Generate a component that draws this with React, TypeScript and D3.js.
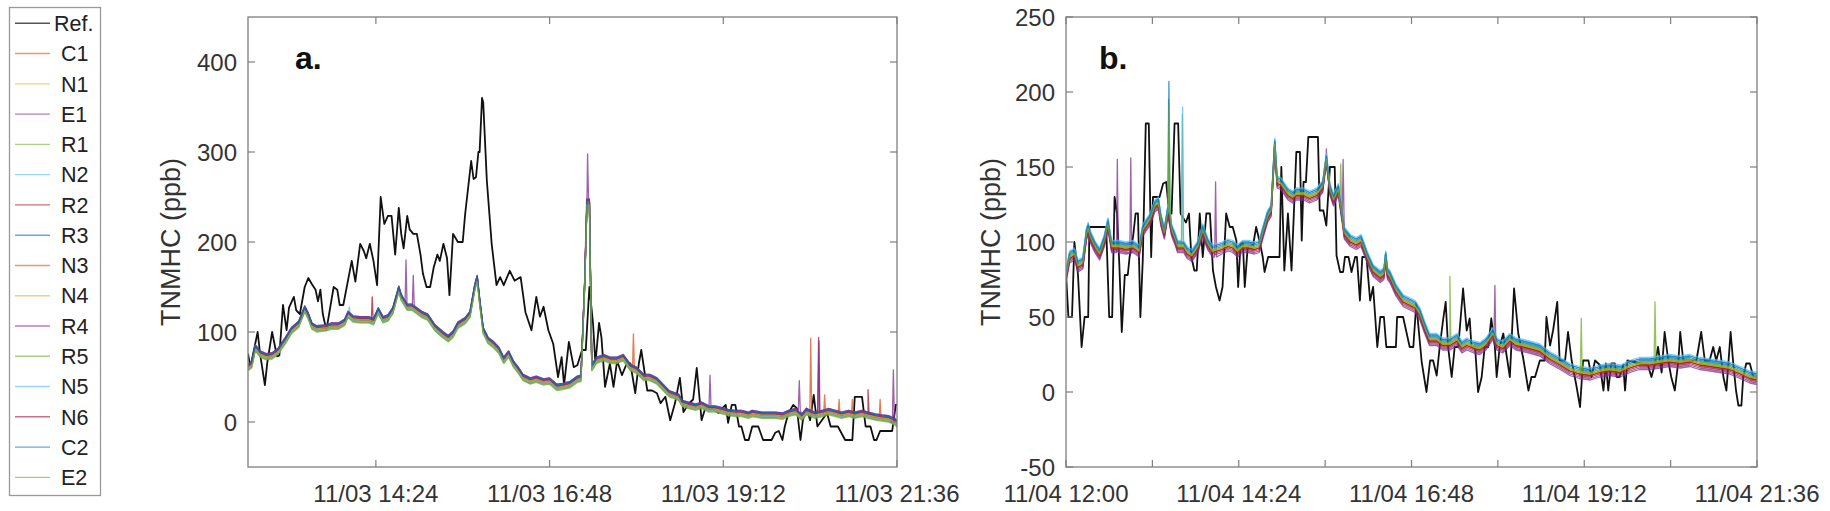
import * as d3 from "d3";

const W = 1830;
const H = 511;
const FONT = "'Liberation Sans', Arial, sans-serif";
const AXIS = "#7f7f7f";
const TEXT = "#333";

const sensorNames = ["C1", "N1", "E1", "R1", "N2", "R2", "R3", "N3", "N4", "R4", "R5", "N5", "N6", "C2", "E2"];
const sensorColors = [
  "#D95319", "#EDB120", "#7E2F8E", "#77AC30", "#4DBEEE", "#A2142F", "#0072BD",
  "#D95319", "#EDB120", "#7E2F8E", "#77AC30", "#4DBEEE", "#A2142F", "#0072BD", "#77AC30",
];

// times are minutes after 12:00 of the day, values in ppb
const refA: [number, number][] = [
  [38, 76], [40, 61], [46, 100], [48, 76], [52, 41], [54, 66], [58, 100], [62, 73], [64, 74], [67, 130],
  [70, 102], [72, 127], [76, 139], [78, 124], [81, 120], [85, 150], [88, 160], [91, 153], [94, 147], [96, 134],
  [98, 147], [100, 120], [103, 102], [109, 150], [112, 147], [114, 130], [117, 130], [124, 179], [127, 156],
  [131, 198], [134, 190], [136, 182], [139, 198], [142, 179], [145, 152], [148, 250], [151, 220], [154, 229],
  [157, 229], [160, 186], [163, 238], [165, 209], [167, 193], [170, 229], [172, 214], [175, 209], [178, 209],
  [181, 186], [183, 165], [186, 150], [189, 150], [192, 172], [195, 186], [197, 179], [200, 198], [203, 182],
  [205, 141], [208, 209], [212, 200], [216, 200], [218, 231], [223, 290], [225, 270], [227, 272], [229, 300],
  [230, 300], [232, 360], [233, 355], [236, 268], [240, 198], [244, 152], [247, 161], [250, 152], [255, 168],
  [259, 157], [264, 161], [268, 122], [273, 102], [277, 139], [280, 117], [283, 128], [287, 102], [291, 87],
  [295, 50], [298, 72], [300, 41], [304, 89], [308, 61], [311, 63], [315, 80], [318, 80], [321, 150], [324, 110],
  [326, 65], [329, 110], [331, 94], [334, 39], [338, 65], [341, 39], [344, 68], [348, 52], [352, 65], [355, 65],
  [359, 32], [362, 65], [364, 80], [369, 35], [373, 35], [377, 32], [380, 21], [384, 28], [388, 2], [392, 21],
  [396, 49], [399, 11], [403, 20], [407, 25], [410, 60], [414, 2], [417, 15], [424, 15], [428, 10], [431, 15],
  [434, 19], [436, -1], [439, 19], [442, 19], [445, -5], [447, -5], [450, -20], [453, -20], [456, -5], [461, -5],
  [465, -20], [472, -20], [475, -12], [478, -10], [481, -20], [483, -5], [486, 10], [490, 19], [493, 15],
  [496, -20], [498, 2], [501, 15], [504, 2], [507, 30], [510, -5], [518, 10], [521, -5], [527, -5], [533, -20],
  [539, -20], [541, 28], [547, 28], [550, -5], [554, -5], [557, -20], [559, -20], [562, -10], [572, -10],
  [575, 19], [576, 19],
];

const sensorBaseA: [number, number][] = [
  [38, 61], [41, 64], [44, 83], [48, 76], [53, 73], [58, 74], [63, 79], [69, 91], [74, 102], [80, 109],
  [85, 126], [88, 118], [91, 107], [95, 104], [102, 105], [107, 107], [113, 107], [118, 111], [121, 120],
  [125, 115], [131, 114], [138, 114], [142, 112], [146, 124], [150, 114], [154, 116], [158, 124], [163, 148],
  [165, 139], [170, 128], [174, 128], [178, 124], [182, 120], [187, 117], [193, 105], [199, 98], [204, 93],
  [208, 98], [212, 108], [218, 113], [222, 120], [226, 150], [228, 160], [230, 135], [233, 102], [237, 91],
  [241, 87], [246, 80], [250, 69], [254, 76], [258, 65], [262, 58], [266, 50], [272, 46], [277, 48], [283, 45],
  [288, 46], [294, 39], [299, 40], [305, 42], [311, 48], [314, 49], [317, 150], [319, 245], [321, 245],
  [323, 61], [327, 69], [333, 72], [338, 69], [344, 69], [349, 72], [355, 61], [360, 58], [366, 50], [371, 50],
  [377, 46], [382, 39], [387, 32], [391, 30], [395, 28], [398, 21], [403, 19], [409, 17], [414, 19], [420, 15],
  [425, 15], [431, 13], [436, 11], [442, 10], [447, 10], [453, 8], [456, 10], [464, 8], [470, 8], [475, 8],
  [481, 7], [486, 10], [492, 12], [497, 6], [501, 12], [508, 8], [514, 10], [519, 12], [525, 10], [530, 8],
  [536, 10], [541, 8], [547, 10], [552, 8], [558, 6], [563, 5], [569, 4], [575, 0], [576, -2],
];

const sensorOffsetA = [-2, -1, 3, -3, 1, 0, 2, -1, 0, 3, -3, -2, 1, 2, -4];

// [sensor, minute, peak, foot]
const spikesA: [number, number, number, number][] = [
  [4, 122, 128, 115], [5, 141, 139, 112], [2, 169, 180, 128], [9, 175, 163, 126], [2, 319.5, 298, 245],
  [0, 357.5, 98, 60], [9, 421, 52, 15], [2, 495, 46, 10], [0, 504.5, 93, 10], [5, 511, 94, 10],
  [9, 511.3, 90, 10], [7, 516, 30, 10], [0, 528, 25, 9], [7, 539, 25, 8], [5, 552, 36, 8], [0, 562, 25, 5],
  [2, 573, 58, 2],
];

const refB: [number, number][] = [
  [0, 79], [2, 50], [5, 50], [7, 100], [10, 78], [13, 30], [15.5, 50], [18.5, 50], [19.5, 110], [33.5, 110],
  [36, 50], [38.5, 50], [40.5, 130], [42.5, 119], [44.5, 84], [46.5, 40], [49, 78], [51.5, 78], [53, 90],
  [56, 104], [58, 119], [60, 119], [62, 50], [64, 88], [66.5, 179], [69, 179], [71, 90], [72.5, 130], [78, 130],
  [81, 139], [83.5, 140], [86, 119], [88, 119], [90.5, 179], [93.5, 179], [95.5, 119], [100, 113], [102.5, 119],
  [104.5, 90], [107, 81], [109, 81], [111.5, 119], [114, 90], [117, 119], [120, 119], [122.5, 81], [125, 70],
  [128, 61], [130.5, 70], [133.5, 119], [136.5, 110], [139, 110], [142, 101], [143.5, 70], [145.5, 99],
  [147.5, 99], [149, 70], [151.5, 97], [156, 98], [158.5, 110], [161.5, 100], [164, 90], [165.5, 80],
  [168.5, 90], [178, 90], [179.5, 150], [182, 81], [185, 119], [188, 81], [192, 160], [195, 160], [196.5, 101],
  [198, 140], [200, 140], [202, 170], [210, 170], [211.5, 121], [214.5, 121], [217, 111], [220, 150], [224, 150],
  [225.5, 91], [228.5, 80], [231, 80], [232.5, 90], [235.5, 90], [238, 80], [241, 90], [242.5, 90], [245, 61],
  [247, 90], [250.5, 90], [253.5, 61], [256, 70], [259.5, 30], [262, 50], [265, 50], [267, 30], [275, 30],
  [276, 50], [281, 50], [286.5, 30], [289.5, 30], [292, 59], [296.5, 20], [300.5, 0], [303.5, 21], [306, 21],
  [309, 11], [311.5, 30], [314.5, 49], [316.5, 60], [318.5, 30], [321.5, 10], [324, 30], [327, 30], [331, 69],
  [334, 41], [336.5, 49], [338, 30], [341, 30], [343.5, 0], [346.5, 10], [349, 30], [352, 30], [354.5, 49],
  [357.5, 30], [359, 10], [361.5, 30], [364.5, 39], [370, 10], [373.5, 69], [377, 39], [381, 23], [385.5, 1],
  [388, 10], [391, 10], [395, 21], [399, 21], [400.5, 50], [403.5, 31], [406, 41], [409.5, 60], [411.5, 21],
  [416, 21], [418.5, 40], [421.5, 21], [425.5, 4], [428.5, -10], [431, 21], [435.5, 21], [438, 10], [441, 21],
  [445, 18], [448, 1], [450, 19], [452, 1], [454.5, 19], [457.5, 19], [459, 10], [461.5, 10], [464.5, 18],
  [466, 1], [468, 21], [485, 18], [488, 10], [491, 19], [493.5, 30], [496.5, 13], [499, 40], [502, 21],
  [504.5, 10], [507.5, 1], [510.5, 21], [512, 40], [514.5, 21], [525.5, 21], [529.5, 40], [532.5, 21],
  [536.5, 21], [539.5, 30], [542, 21], [545, 30], [548, 10], [550.5, 1], [554, 40], [556, 21], [558.5, 1],
  [560.5, -9], [563, -9], [564.5, 10], [567, 19], [570, 19], [573, 10], [576, 10],
];

const sensorBaseB: [number, number][] = [
  [0, 77], [3, 90], [7, 92], [10, 84], [14, 86], [17, 105], [18.5, 109], [20, 104], [24, 97], [28, 92],
  [32, 101], [35, 112], [38, 97], [44, 97], [50, 96], [56, 97], [61, 94], [64, 108], [70, 115], [74, 124],
  [77, 126], [79, 115], [82, 106], [85, 121], [88, 108], [91, 102], [93, 97], [98, 97], [101, 93], [105, 91],
  [110, 97], [114, 108], [118, 99], [122, 94], [130, 96], [135, 98], [139, 97], [143, 94], [147, 97], [152, 97],
  [157, 96], [161, 97], [164, 106], [168, 117], [171, 121], [174, 165], [176, 140], [179, 139], [185, 132],
  [189, 130], [192, 132], [198, 132], [203, 130], [209, 132], [214, 137], [217, 155], [220, 135], [223, 128],
  [227, 135], [230, 118], [232, 106], [237, 101], [242, 99], [246, 101], [251, 90], [256, 81], [262, 77],
  [265, 79], [266.5, 90], [268, 79], [270, 77], [275, 68], [281, 61], [286, 59], [291, 57], [295, 52], [299, 43],
  [303, 35], [309, 35], [314, 32], [320, 32], [326, 35], [330, 30], [334, 32], [340, 30], [345, 29], [350, 32],
  [356, 39], [359, 32], [364, 30], [370, 35], [375, 32], [381, 31], [386, 30], [395, 28], [403, 23], [412, 19],
  [420, 15], [428, 13], [437, 12], [445, 14], [453, 15], [462, 14], [470, 17], [478, 19], [487, 19], [495, 20],
  [503, 21], [512, 20], [520, 21], [528, 19], [537, 18], [545, 17], [553, 16], [562, 13], [570, 10], [576, 9],
];

const sensorOffsetB = [-1, 0, -4, 1, 3, -2, 3, -1, 0, -3, 1, 4, -1, 2, 0];

const spikesB: [number, number, number, number][] = [
  [2, 42.8, 155, 97], [9, 54, 156, 96], [6, 85.8, 207, 120], [3, 85.5, 195, 120], [14, 86, 190, 120],
  [10, 97, 185, 97], [11, 97.2, 190, 97], [2, 124.7, 140, 94], [2, 217, 162, 155], [9, 231, 155, 118],
  [10, 229, 152, 125], [3, 320, 77, 32], [9, 357.5, 71, 36], [14, 429.5, 49, 13], [10, 491, 60, 19],
];

const yTicksA = [0, 100, 200, 300, 400];
const yTicksB = [-50, 0, 50, 100, 150, 200, 250];
const xTicksA = [144, 288, 432, 576];
const xTicksB = [0, 72, 144, 216, 288, 360, 432, 504, 576];
const xLabelMinutes = [0, 144, 288, 432, 576];

const at = (day: number, m: number) => new Date(2019, 10, day, 12, 0, 0, 0).getTime() + m * 60000;
const fmt = d3.timeFormat("%m/%d %H:%M");

function Panel({ id, day, left, right, top, bottom, startMin, yDomain, yTicks, xTicks, refData, base, offsets, spikes, tag, tagX, yLabelX }: any) {
  const x = d3.scaleTime().domain([at(day, startMin), at(day, 576)]).range([left, right]);
  const y = d3.scaleLinear().domain(yDomain).range([bottom, top]);
  const line = d3.line<[number, number]>().x((d) => x(at(day, d[0]))).y((d) => y(d[1]));

  const series = sensorNames.map((_, s) => {
    const pts: [number, number][] = base.map(([t, v]: [number, number]) => [t, v + offsets[s]]);
    spikes
      .filter((sp: number[]) => sp[0] === s)
      .forEach(([, t, peak, foot]: number[]) => {
        pts.push([t - 0.8, foot + offsets[s]], [t, peak], [t + 0.8, foot + offsets[s]]);
      });
    return pts.sort((a, b) => a[0] - b[0]);
  });

  return (
    <g>
      <defs>
        <clipPath id={id}>
          <rect x={left} y={top} width={right - left} height={bottom - top} />
        </clipPath>
      </defs>
      <rect x={left} y={top} width={right - left} height={bottom - top} fill="white" />
      <g clipPath={`url(#${id})`}>
        <path d={line(refData) || ""} fill="none" stroke="#111" strokeWidth={1.8} strokeLinejoin="round" />
        {series.map((pts, s) => (
          <path key={s} d={line(pts) || ""} fill="none" stroke={sensorColors[s]} strokeWidth={1.3} strokeOpacity={0.75} strokeLinejoin="round" />
        ))}
      </g>
      <rect x={left} y={top} width={right - left} height={bottom - top} fill="none" stroke={AXIS} strokeWidth={1.3} />
      {xTicks.map((m: number) => {
        const xx = x(at(day, m));
        return (
          <g key={m}>
            <line x1={xx} x2={xx} y1={bottom} y2={bottom - 7} stroke={AXIS} strokeWidth={1.2} />
            <line x1={xx} x2={xx} y1={top} y2={top + 7} stroke={AXIS} strokeWidth={1.2} />
          </g>
        );
      })}
      {xLabelMinutes.filter((m) => m >= startMin).map((m) => (
        <text key={m} x={x(at(day, m))} y={502} textAnchor="middle" fontSize={24} fontFamily={FONT} fill={TEXT}>
          {fmt(new Date(at(day, m)))}
        </text>
      ))}
      {yTicks.map((v: number) => (
        <g key={v}>
          <line x1={left} x2={left + 7} y1={y(v)} y2={y(v)} stroke={AXIS} strokeWidth={1.2} />
          <line x1={right} x2={right - 7} y1={y(v)} y2={y(v)} stroke={AXIS} strokeWidth={1.2} />
          <text x={left - 11} y={y(v)} dy="0.36em" textAnchor="end" fontSize={24} fontFamily={FONT} fill={TEXT}>
            {v}
          </text>
        </g>
      ))}
      <text transform={`translate(${yLabelX},${(top + bottom) / 2}) rotate(-90)`} textAnchor="middle" fontSize={27} fontFamily={FONT} fill={TEXT}>
        TNMHC (ppb)
      </text>
      <text x={tagX} y={69} fontSize={32} fontWeight="bold" fontFamily={FONT} fill="#111">
        {tag}
      </text>
    </g>
  );
}

function Legend() {
  const names = ["Ref.", ...sensorNames];
  const rowY = (i: number) => 23.3 + i * 30.27;
  return (
    <g fontFamily={FONT} fontSize={21.5} fill="#222">
      <rect x={9.5} y={7.5} width={91} height={488} fill="white" stroke="#999" strokeWidth={1.3} />
      {names.map((n, i) => (
        <g key={n}>
          <line x1={15} x2={50} y1={rowY(i)} y2={rowY(i)} stroke={i === 0 ? "#555" : sensorColors[i - 1]} strokeOpacity={i === 0 ? 1 : 0.6} strokeWidth={1.4} />
          <text x={i === 0 ? 54 : 61} y={rowY(i)} dy="0.36em">
            {n}
          </text>
        </g>
      ))}
    </g>
  );
}

export default function App() {
  return (
    <svg width={W} height={H} style={{ position: "absolute", left: 0, top: 0, display: "block", background: "white" }}>
      <Legend />
      <Panel
        id="clipA" day={3} left={248} right={897} top={17} bottom={467} startMin={38}
        yDomain={[-50, 450]} yTicks={yTicksA} xTicks={xTicksA} refData={refA}
        base={sensorBaseA} offsets={sensorOffsetA} spikes={spikesA} tag="a." tagX={295} yLabelX={180}
      />
      <Panel
        id="clipB" day={4} left={1066} right={1757} top={17} bottom={467} startMin={0}
        yDomain={[-50, 250]} yTicks={yTicksB} xTicks={xTicksB} refData={refB}
        base={sensorBaseB} offsets={sensorOffsetB} spikes={spikesB} tag="b." tagX={1099} yLabelX={1000}
      />
    </svg>
  );
}
